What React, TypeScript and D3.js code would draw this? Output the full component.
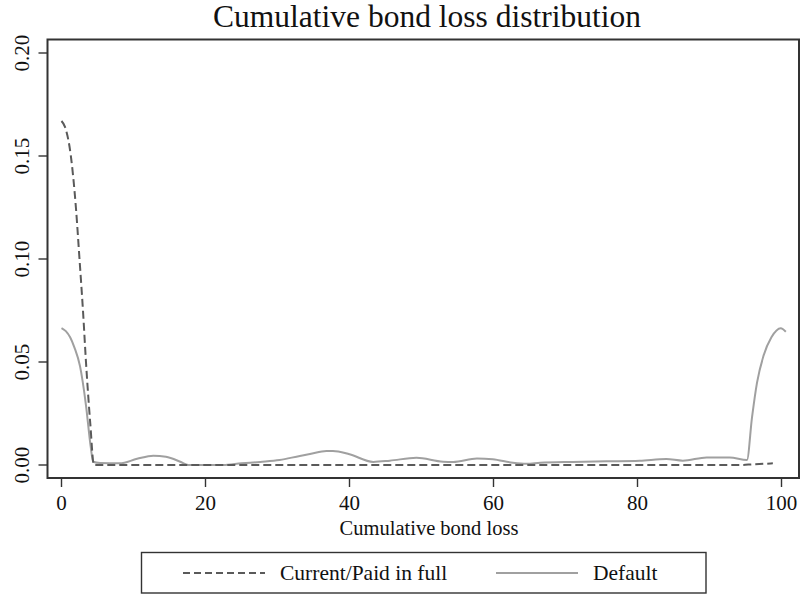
import React from "react";
import * as d3 from "d3";

const title = "Cumulative bond loss distribution";
const xLabel = "Cumulative bond loss";
const xTicks = [0, 20, 40, 60, 80, 100];
const yTicks = [0, 0.05, 0.1, 0.15, 0.2];

const currentX = [0, 0.5, 1.3, 2.0, 2.5, 3.0, 3.4, 4.0, 4.5, 10, 20, 40, 60, 80, 94, 96, 98.8];
const currentY = [0.167, 0.164, 0.15, 0.125, 0.1, 0.074, 0.05, 0.02, 0.0, 0, 0, 0, 0, 0, 0, 0.0003, 0.0008];

const defaultX = [0, 0.6, 1.2, 1.8, 2.57, 3.4, 4.05, 4.4, 5.35, 8.1, 10.5, 12.75, 14.5, 16.5, 17.6, 22.4, 25, 27.6, 30.3, 33.1, 34.5, 36.8, 37.7, 40, 43.3, 45.6, 49.3, 53, 54.4, 57.7, 59.9, 62.7, 64.6, 66.5, 71, 75.7, 80.3, 84, 86.3, 89.6, 92.8, 95.2, 95.9, 96.6, 97.5, 98.6, 99.9, 100.6];
const defaultY = [0.0665, 0.065, 0.062, 0.057, 0.048, 0.029, 0.009, 0.0016, 0.001, 0.0008, 0.003, 0.0045, 0.004, 0.0016, 0.0, 0.0, 0.0008, 0.0015, 0.0024, 0.0044, 0.0053, 0.0068, 0.0068, 0.0052, 0.0015, 0.0021, 0.0035, 0.0016, 0.0015, 0.0032, 0.0028, 0.0011, 0.0006, 0.0011, 0.0015, 0.0018, 0.0021, 0.0029, 0.0021, 0.0037, 0.0037, 0.0024, 0.023, 0.04, 0.053, 0.062, 0.0664, 0.0647];

const legendLabels = ["Current/Paid in full", "Default"];

const W = 800;
const H = 596;
const frame = { left: 47.5, right: 799, top: 39.5, bottom: 478 };
const FONT = "'Liberation Serif', 'Times New Roman', serif";

export default function App() {
  const x = d3.scaleLinear().domain([0, 100]).range([61.5, 781.5]);
  const y = d3.scaleLinear().domain([0, 0.2]).range([465, 53]);

  const line = d3
    .line<[number, number]>()
    .x((d) => x(d[0]))
    .y((d) => y(d[1]))
    .curve(d3.curveMonotoneX);

  const curPts: [number, number][] = currentX.map((v, i) => [v, currentY[i]]);
  const defPts: [number, number][] = defaultX.map((v, i) => [v, defaultY[i]]);

  return (
    <svg
      width={W}
      height={H}
      style={{ position: "absolute", left: 0, top: 0, background: "#fff" }}
      fontFamily={FONT}
    >
      <rect x={0} y={0} width={W} height={H} fill="#fff" />
      <text x={427} y={27} textAnchor="middle" fontSize={31.5} fill="#111">
        {title}
      </text>
      <rect
        x={frame.left}
        y={frame.top}
        width={frame.right - frame.left}
        height={frame.bottom - frame.top}
        fill="none"
        stroke="#333"
        strokeWidth={2}
      />
      {yTicks.map((t) => (
        <g key={"y" + t}>
          <line x1={frame.left - 9} x2={frame.left} y1={y(t)} y2={y(t)} stroke="#333" strokeWidth={1.4} />
          <text
            transform={`translate(${29},${y(t)}) rotate(-90)`}
            textAnchor="middle"
            fontSize={21}
            fill="#111"
          >
            {t.toFixed(2)}
          </text>
        </g>
      ))}
      {xTicks.map((t) => (
        <g key={"x" + t}>
          <line x1={x(t)} x2={x(t)} y1={frame.bottom} y2={frame.bottom + 9} stroke="#333" strokeWidth={1.4} />
          <text x={x(t)} y={510} textAnchor="middle" fontSize={21} fill="#111">
            {t}
          </text>
        </g>
      ))}
      <text x={429} y={535} textAnchor="middle" fontSize={20.5} fill="#111">
        {xLabel}
      </text>
      <path d={line(defPts) || ""} fill="none" stroke="#a0a0a0" strokeWidth={2} />
      <path d={line(curPts) || ""} fill="none" stroke="#5a5a5a" strokeWidth={2} strokeDasharray="8,4" />
      <rect x={141.5} y={552.5} width={564.5} height={40.5} fill="#fff" stroke="#333" strokeWidth={1.4} />
      <line x1={183} x2={265} y1={573} y2={573} stroke="#5a5a5a" strokeWidth={2} strokeDasharray="7,4" />
      <text x={280} y={580} fontSize={21.5} fill="#111">
        {legendLabels[0]}
      </text>
      <line x1={496} x2={578} y1={573} y2={573} stroke="#a0a0a0" strokeWidth={2} />
      <text x={593} y={580} fontSize={21.5} fill="#111">
        {legendLabels[1]}
      </text>
    </svg>
  );
}
